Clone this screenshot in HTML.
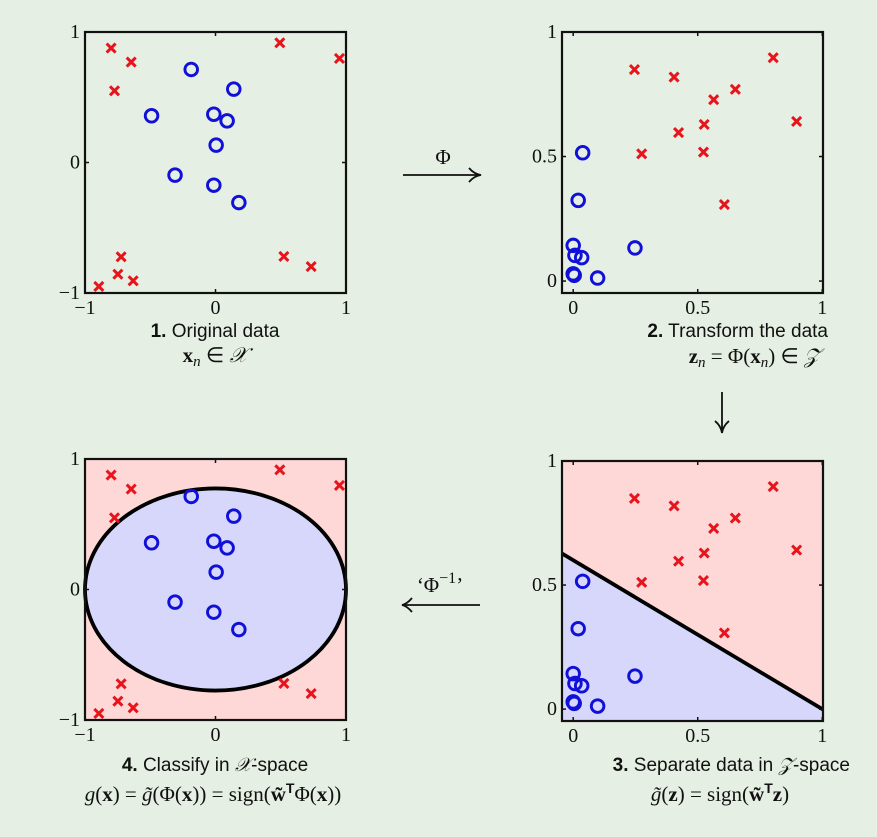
<!DOCTYPE html>
<html><head><meta charset="utf-8"><style>
html,body{margin:0;padding:0;background:#e6efe3;}
svg{display:block;}
.tk{font-family:"Liberation Serif",serif;font-size:20px;fill:#111;}
.cap{font-family:"Liberation Sans",sans-serif;font-size:19px;fill:#111;}
.mth{font-family:"Liberation Serif",serif;font-size:21px;fill:#111;}
</style></head><body>
<svg id="fig" width="877" height="837" viewBox="0 0 877 837" xmlns="http://www.w3.org/2000/svg">
<rect width="877" height="837" fill="#e6efe3"/>
<g id="p1"></g>
<g id="p2"></g>
<g id="p3"></g>
<g id="p4"></g>

<g>
<text class="mth" x="443" y="164" text-anchor="middle" font-size="22">Φ</text>
<line x1="403" y1="175" x2="478" y2="175" stroke="#111" stroke-width="1.8"/>
<path d="M469,168 Q474,174 481,175 Q474,176 469,182" fill="none" stroke="#111" stroke-width="1.8"/>
</g>
<g>
<line x1="722" y1="392" x2="722" y2="430" stroke="#111" stroke-width="1.8"/>
<path d="M715,421 Q721,426 722,433 Q723,426 729,421" fill="none" stroke="#111" stroke-width="1.8"/>
</g>
<g>
<text class="mth" x="440" y="592" text-anchor="middle" font-size="22">‘Φ<tspan dy="-9" font-size="16">−1</tspan><tspan dy="9">’</tspan></text>
<line x1="405" y1="605" x2="480" y2="605" stroke="#111" stroke-width="1.8"/>
<path d="M412,598 Q407,604 402,605 Q407,606 412,612" fill="none" stroke="#111" stroke-width="1.8"/>
</g>

<text class="cap" x="215" y="337" text-anchor="middle"><tspan font-weight="bold">1.</tspan> Original data</text>
<text class="mth" x="215" y="362" text-anchor="middle"><tspan font-weight="bold">x</tspan><tspan font-style="italic" font-size="15" dy="4">n</tspan><tspan dy="-4"> ∈ </tspan><tspan font-style="italic">𝒳</tspan></text>
<text class="cap" x="828" y="337" text-anchor="end"><tspan font-weight="bold">2.</tspan> Transform the data</text>
<text class="mth" x="820" y="363" text-anchor="end"><tspan font-weight="bold">z</tspan><tspan font-style="italic" font-size="15" dy="4">n</tspan><tspan dy="-4"> = Φ(</tspan><tspan font-weight="bold">x</tspan><tspan font-style="italic" font-size="15" dy="4">n</tspan><tspan dy="-4">) ∈ </tspan><tspan font-style="italic">𝒵</tspan></text>
<text class="cap" x="215" y="771" text-anchor="middle"><tspan font-weight="bold">4.</tspan> Classify in <tspan font-family="Liberation Serif" font-style="italic">𝒳</tspan>-space</text>
<text class="mth" x="213" y="801" text-anchor="middle"><tspan font-style="italic">g</tspan>(<tspan font-weight="bold">x</tspan>) = <tspan font-style="italic">g̃</tspan>(Φ(<tspan font-weight="bold">x</tspan>)) = sign(<tspan font-weight="bold">w̃</tspan><tspan font-family="Liberation Sans" font-weight="bold" font-size="14" dy="-8">T</tspan><tspan dy="8">Φ(</tspan><tspan font-weight="bold">x</tspan>))</text>
<text class="cap" x="850" y="771" text-anchor="end"><tspan font-weight="bold">3.</tspan> Separate data in <tspan font-family="Liberation Serif" font-style="italic">𝒵</tspan>-space</text>
<text class="mth" x="720" y="801" text-anchor="middle"><tspan font-style="italic">g̃</tspan>(<tspan font-weight="bold">z</tspan>) = sign(<tspan font-weight="bold">w̃</tspan><tspan font-family="Liberation Sans" font-weight="bold" font-size="14" dy="-8">T</tspan><tspan dy="8" font-weight="bold">z</tspan>)</text>
</svg>
<script>
// X-space data
const xCrossX=[-0.80,-0.646,-0.774,0.493,0.95,-0.723,-0.748,-0.631,-0.894,0.524,0.733];
const xCrossY=[0.877,0.77,0.549,0.917,0.797,-0.723,-0.856,-0.907,-0.95,-0.72,-0.797];
const xCircX=[-0.186,0.14,-0.49,-0.013,0.089,0.005,-0.31,-0.013,0.179];
const xCircY=[0.713,0.562,0.358,0.37,0.319,0.133,-0.097,-0.174,-0.307];
// Z-space data
const zCrossX=[0.246,0.405,0.803,0.651,0.564,0.526,0.423,0.275,0.523,0.897,0.607];
const zCrossY=[0.849,0.819,0.897,0.770,0.728,0.629,0.596,0.511,0.518,0.641,0.307];
const zCircX=[0.038,0.02,0,0.007,0.034,0.248,0,0.004,0.098];
const zCircY=[0.515,0.324,0.143,0.103,0.094,0.133,0.029,0.023,0.012];
// separator in Z: z2 = b - m*z1
const sepIntercept=[0.6];
const sepSlope=[0.6];
const xTicks1=[-1,0,1], zTicks=[0,0.5,1];
const zTickLabels=["0","0.5","1"];

const NS="http://www.w3.org/2000/svg";
function mk(parent,tag,attrs){const e=document.createElementNS(NS,tag);for(const k in attrs)e.setAttribute(k,attrs[k]);parent.appendChild(e);return e;}
function axes(L,T,W,H,x0,x1,y0,y1){return{sx:v=>L+(v-x0)/(x1-x0)*W,sy:v=>T+(y1-v)/(y1-y0)*H,L,T,W,H};}
function marks(g,a,cx,cy,ox,oy){
  for(let i=0;i<cx.length;i++){const x=a.sx(cx[i]),y=a.sy(cy[i]);
    const p=mk(g,'path',{d:`M${x-4.5},${y-4.5}L${x+4.5},${y+4.5}M${x-4.5},${y+4.5}L${x+4.5},${y-4.5}`,stroke:'#e8141c','stroke-width':3,fill:'none'});
    
    }
  for(let i=0;i<ox.length;i++){
    const c=mk(g,'circle',{cx:a.sx(ox[i]),cy:a.sy(oy[i]),r:6.3,stroke:'#1010d8','stroke-width':2.9,fill:'none'});
    
    }
}
function frame(g,a,xt,yt,xl,yl){
  mk(g,'rect',{x:a.L,y:a.T,width:a.W,height:a.H,fill:'none',stroke:'#111','stroke-width':2.2});
  xt.forEach((v,i)=>{const x=a.sx(v);
    mk(g,'line',{x1:x,y1:a.T+a.H,x2:x,y2:a.T+a.H-4,stroke:'#111','stroke-width':1.5});
    mk(g,'line',{x1:x,y1:a.T,x2:x,y2:a.T+4,stroke:'#111','stroke-width':1.5});
    const t=mk(g,'text',{class:'tk',x:x,y:a.T+a.H+21,'text-anchor':'middle'});t.textContent=xl[i];
    
    });
  yt.forEach((v,i)=>{const y=a.sy(v);
    mk(g,'line',{x1:a.L,y1:y,x2:a.L+4,y2:y,stroke:'#111','stroke-width':1.5});
    mk(g,'line',{x1:a.L+a.W,y1:y,x2:a.L+a.W-4,y2:y,stroke:'#111','stroke-width':1.5});
    const t=mk(g,'text',{class:'tk',x:a.L-5,y:y+6,'text-anchor':'end'});t.textContent=yl[i];
    
    });
}
const lab1=["−1","0","1"];
{const g=document.getElementById('p1');const a=axes(85,32,261,261,-1,1,-1,1);
 frame(g,a,xTicks1,xTicks1,lab1,lab1);marks(g,a,xCrossX,xCrossY,xCircX,xCircY);}
{const g=document.getElementById('p2');const a=axes(562,32,261,261,-0.045,1.003,-0.048,1.0);
 frame(g,a,zTicks,zTicks,zTickLabels,zTickLabels);marks(g,a,zCrossX,zCrossY,zCircX,zCircY);}
{const g=document.getElementById('p3');const a=axes(562,461,261,260,-0.045,1.003,-0.048,1.0);
 const b=sepIntercept[0],m=sepSlope[0];const f=z=>b-m*z;
 const xl=-0.045,xr=1.003,yb=-0.048,yt=1.0;
 const pl=`${a.sx(xl)},${a.sy(f(xl))}`,pr=`${a.sx(xr)},${a.sy(f(xr))}`;
 const r1=mk(g,'polygon',{points:`${a.sx(xl)},${a.sy(yt)} ${a.sx(xr)},${a.sy(yt)} ${pr} ${pl}`,fill:'#fed7d7'});
 
 
 const r2=mk(g,'polygon',{points:`${pl} ${pr} ${a.sx(xr)},${a.sy(yb)} ${a.sx(xl)},${a.sy(yb)}`,fill:'#d6d7fb'});
 
 
 const ln=mk(g,'line',{x1:a.sx(xl),y1:a.sy(f(xl)),x2:a.sx(xr),y2:a.sy(f(xr)),stroke:'#000','stroke-width':3.8});
 
 
 frame(g,a,zTicks,zTicks,zTickLabels,zTickLabels);marks(g,a,zCrossX,zCrossY,zCircX,zCircY);}
{const g=document.getElementById('p4');const a=axes(85,459,261,261,-1,1,-1,1);
 const bg=mk(g,'rect',{x:a.L,y:a.T,width:a.W,height:a.H,fill:'#fed7d7'});
 
 
 const rx=Math.sqrt(sepIntercept[0]/sepSlope[0]);
 const el=mk(g,'ellipse',{cx:a.sx(0),cy:a.sy(0),rx:a.sx(rx)-a.sx(0),ry:a.sy(0)-a.sy(Math.sqrt(sepIntercept[0])),fill:'#d6d7fb',stroke:'#000','stroke-width':3.8});
 
 
 frame(g,a,xTicks1,xTicks1,lab1,lab1);marks(g,a,xCrossX,xCrossY,xCircX,xCircY);}
</script>
</body></html>
